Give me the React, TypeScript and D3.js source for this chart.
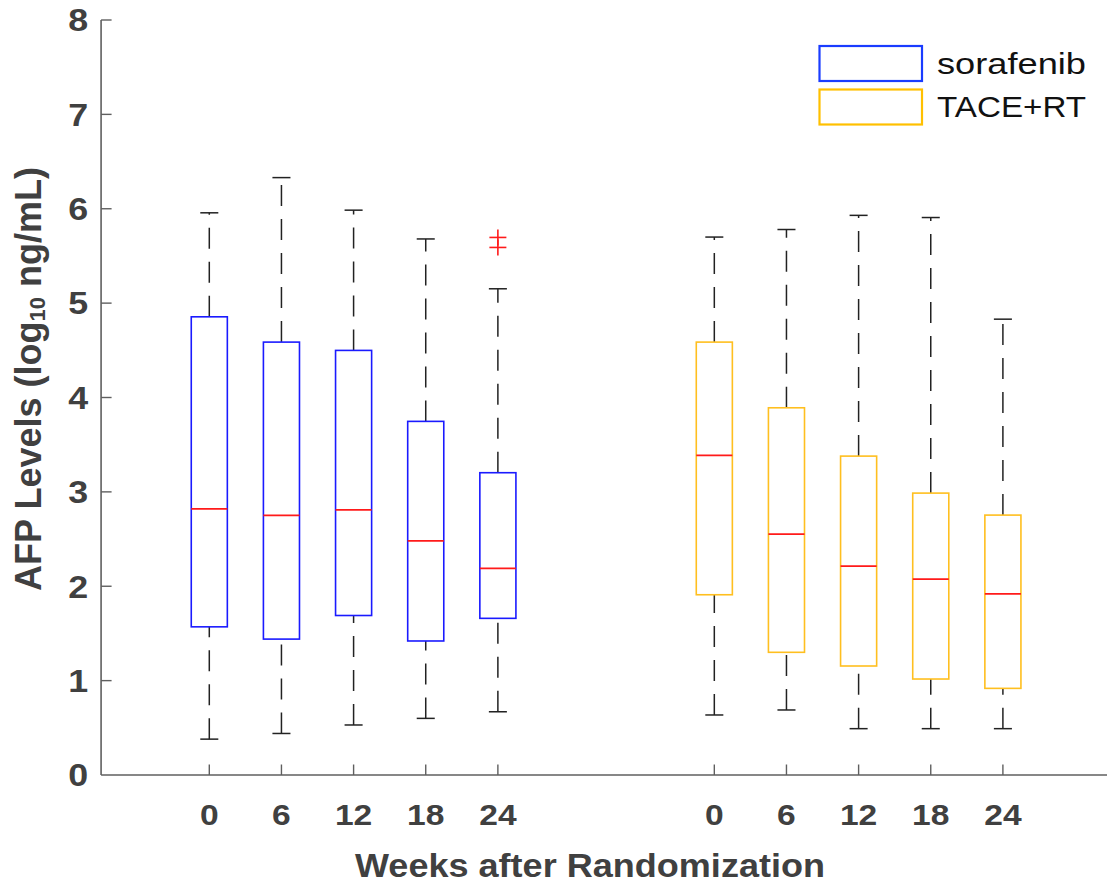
import React from "react";
import * as d3 from "d3";

const weeks = ["0", "6", "12", "18", "24"];
const groups = ["sorafenib", "TACE+RT"];
const groupColors = ["#1a1aff", "#ffbf1f"];
const legendColors = ["#1a3cff", "#ffc000"];
const groupOffsets = [1, 8];

// per group: arrays over weeks
const sorLowCap = [0.38, 0.44, 0.53, 0.6, 0.67];
const sorQ1 = [1.57, 1.44, 1.69, 1.42, 1.66];
const sorMed = [2.82, 2.75, 2.81, 2.48, 2.19];
const sorQ3 = [4.855, 4.587, 4.499, 3.747, 3.203];
const sorHighCap = [5.957, 6.33, 5.985, 5.68, 5.152];
const sorOutliers = [[], [], [], [], [5.696, 5.59]];

const taceLowCap = [0.636, 0.689, 0.491, 0.491, 0.491];
const taceQ1 = [1.91, 1.3, 1.155, 1.017, 0.918];
const taceMed = [3.386, 2.553, 2.214, 2.076, 1.92];
const taceQ3 = [4.587, 3.891, 3.379, 2.987, 2.754];
const taceHighCap = [5.7, 5.78, 5.93, 5.907, 4.83];
const taceOutliers = [[], [], [], [], []];

const yTicks = [0, 1, 2, 3, 4, 5, 6, 7, 8];

const W = 1107;
const H = 888;

export default function App() {
  const x = d3.scaleLinear().domain([1, 12]).range([209.3, 1002.9]);
  const y = d3.scaleLinear().domain([0, 8]).range([775, 20]);
  const halfBox = x(1.25) - x(1);
  const halfCap = x(1.125) - x(1);
  const axisColor = "#5f5f5f";
  const textColor = "#404040";
  const font = "'Liberation Sans', Arial, Helvetica, sans-serif";

  const data = [
    { low: sorLowCap, q1: sorQ1, med: sorMed, q3: sorQ3, high: sorHighCap, out: sorOutliers },
    { low: taceLowCap, q1: taceQ1, med: taceMed, q3: taceQ3, high: taceHighCap, out: taceOutliers },
  ];

  const boxes: any[] = [];
  data.forEach((g, gi) => {
    weeks.forEach((w, wi) => {
      const pos = groupOffsets[gi] + wi;
      boxes.push({
        key: `${gi}-${wi}`,
        cx: x(pos),
        low: y(g.low[wi]),
        q1: y(g.q1[wi]),
        med: y(g.med[wi]),
        q3: y(g.q3[wi]),
        high: y(g.high[wi]),
        out: g.out[wi].map((v: number) => y(v)),
        color: groupColors[gi],
        label: w,
      });
    });
  });

  return (
    <svg
      width={W}
      height={H}
      style={{ position: "absolute", left: 0, top: 0, background: "#fff" }}
      fontFamily={font}
    >
      <rect x={0} y={0} width={W} height={H} fill="#fff" />
      {/* axes */}
      <line x1={x(-0.5)} x2={W} y1={y(0)} y2={y(0)} stroke={axisColor} strokeWidth={1.6} />
      <line x1={x(-0.5)} x2={x(-0.5)} y1={y(0)} y2={y(8)} stroke={axisColor} strokeWidth={1.6} />
      {yTicks.map((t) => (
        <g key={t}>
          {t > 0 && (
            <line x1={x(-0.5)} x2={x(-0.5) + 10.5} y1={y(t)} y2={y(t)} stroke={axisColor} strokeWidth={1.4} />
          )}
          <g transform={`translate(${x(-0.5) - 13}, ${y(t)}) scale(1.12, 1)`}>
            <text
              x={0}
              y={0}
              textAnchor="end"
              dominantBaseline="central"
              fontSize={32}
              fontWeight="bold"
              fill={textColor}
            >
              {t}
            </text>
          </g>
        </g>
      ))}
      {boxes.map((b) => (
        <g key={"t" + b.key}>
          <line x1={b.cx} x2={b.cx} y1={y(0)} y2={y(0) - 10.5} stroke={axisColor} strokeWidth={1.4} />
          <g transform={`translate(${b.cx}, 825) scale(1.12, 1)`}>
            <text
              x={0}
              y={0}
              textAnchor="middle"
              fontSize={30}
              fontWeight="bold"
              fill={textColor}
            >
              {b.label}
            </text>
          </g>
        </g>
      ))}
      {/* boxes */}
      {boxes.map((b) => (
        <g key={b.key}>
          <line
            x1={b.cx}
            x2={b.cx}
            y1={b.low}
            y2={b.q1}
            stroke="#222"
            strokeWidth={1.5}
            strokeDasharray="21 13"
          />
          <line
            x1={b.cx}
            x2={b.cx}
            y1={b.q3}
            y2={b.high}
            stroke="#222"
            strokeWidth={1.5}
            strokeDasharray="21 13"
          />
          <line x1={b.cx - halfCap} x2={b.cx + halfCap} y1={b.low} y2={b.low} stroke="#222" strokeWidth={1.5} />
          <line x1={b.cx - halfCap} x2={b.cx + halfCap} y1={b.high} y2={b.high} stroke="#222" strokeWidth={1.5} />
          <rect
            x={b.cx - halfBox}
            y={b.q3}
            width={halfBox * 2}
            height={b.q1 - b.q3}
            fill="none"
            stroke={b.color}
            strokeWidth={1.6}
          />
          <line
            x1={b.cx - halfBox}
            x2={b.cx + halfBox}
            y1={b.med}
            y2={b.med}
            stroke="#ff1a1a"
            strokeWidth={1.8}
          />
          {b.out.map((oy: number, i: number) => (
            <g key={i} stroke="#ff1a1a" strokeWidth={1.6}>
              <line x1={b.cx - 8.5} x2={b.cx + 8.5} y1={oy} y2={oy} />
              <line x1={b.cx} x2={b.cx} y1={oy - 8} y2={oy + 8} />
            </g>
          ))}
        </g>
      ))}
      {/* axis labels */}
      <text
        x={590}
        y={877}
        textAnchor="middle"
        fontSize={33}
        fontWeight="bold"
        fill={textColor}
        textLength={470}
        lengthAdjust="spacingAndGlyphs"
      >
        Weeks after Randomization
      </text>
      <text
        transform={`translate(41, 379) rotate(-90)`}
        textAnchor="middle"
        fontSize={36}
        fontWeight="bold"
        fill={textColor}
      >
        AFP Levels (log
        <tspan fontSize={22} dy={4}>10</tspan>
        <tspan dy={-4}> ng/mL)</tspan>
      </text>
      {/* legend */}
      {groups.map((g, i) => (
        <g key={g}>
          <rect
            x={819.5}
            y={46 + i * 43.5}
            width={102.5}
            height={35}
            fill="none"
            stroke={legendColors[i]}
            strokeWidth={2.2}
          />
          <text
            x={937}
            y={46 + i * 43.5 + 17.5}
            dominantBaseline="central"
            fontSize={29}
            fill="#111"
            textLength={149}
            lengthAdjust="spacingAndGlyphs"
          >
            {g}
          </text>
        </g>
      ))}
    </svg>
  );
}
